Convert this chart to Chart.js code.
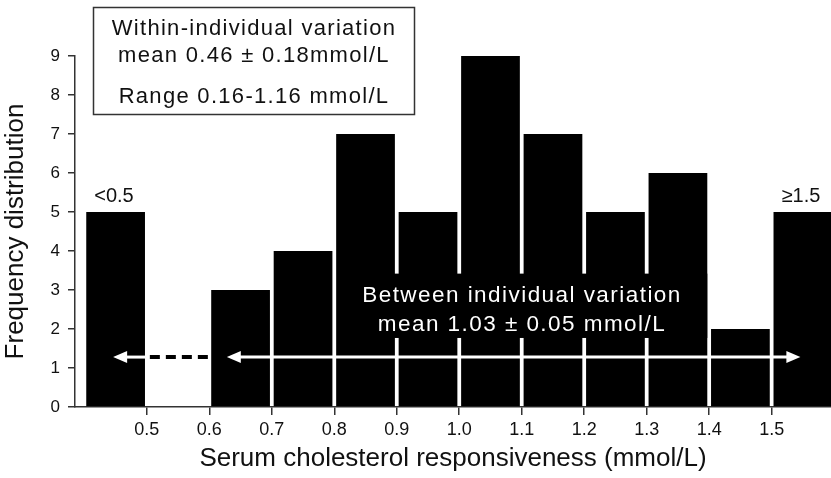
<!DOCTYPE html>
<html>
<head>
<meta charset="utf-8">
<script src="https://cdn.jsdelivr.net/npm/chart.js@4/dist/chart.umd.min.js"></script>
<style>
  html, body { margin:0; padding:0; background:#fff; }
  #wrap { width:831px; height:478px; position:relative; }
</style>
</head>
<body>
<div id="wrap"><canvas id="histo"></canvas></div>
<script>
// histogram bins (centre of each 0.1 mmol/L bin) and counts
const binCenters = [0.45, 0.55, 0.65, 0.75, 0.85, 0.95, 1.05, 1.15, 1.25, 1.35, 1.45, 1.55];
const frequencies = [5, 0, 3, 4, 7, 5, 9, 7, 5, 6, 2, 5];
const xTickValues = [0.5, 0.6, 0.7, 0.8, 0.9, 1.0, 1.1, 1.2, 1.3, 1.4, 1.5];
const yTickValues = [0, 1, 2, 3, 4, 5, 6, 7, 8, 9];

const boxLines = ['Within-individual variation', 'mean 0.46 \u00b1 0.18mmol/L', 'Range 0.16-1.16 mmol/L'];
const betweenLines = ['Between individual variation', 'mean 1.03 \u00b1 0.05 mmol/L'];
const edgeLabels = [{ text:'<0.5', bin:0 }, { text:'\u22651.5', bin:11 }];

const FONT = '"Liberation Sans", Arial, sans-serif';
const INK = '#111';

const annotations = {
  id:'annotations',
  afterDatasetsDraw(chart){
    const {ctx, scales:{x, y}} = chart;
    ctx.save();
    ctx.textAlign = 'center';
    ctx.textBaseline = 'middle';

    // labels above the open-ended bins
    ctx.font = '20px ' + FONT;
    ctx.fillStyle = INK;
    edgeLabels.forEach(l=>{
      const px = l.bin === 0 ? 114 : 801;
      ctx.fillText(l.text, px, y.getPixelForValue(frequencies[l.bin]) - 16);
    });

    // within-individual box
    ctx.strokeStyle = '#333';
    ctx.lineWidth = 1.5;
    ctx.strokeRect(93.5, 7.5, 321, 107);
    ctx.font = '22px ' + FONT;
    ctx.letterSpacing = '1.3px';
    ctx.fillText(boxLines[0], 254, 29);
    ctx.fillText(boxLines[1], 254, 56);
    ctx.fillText(boxLines[2], 254, 97);

    // black panel behind between-individual text
    ctx.fillStyle = '#000';
    const rx0 = x.getPixelForValue(0.81), rx1 = x.getPixelForValue(1.397);
    const ry0 = y.getPixelForValue(3.42), ry1 = y.getPixelForValue(1.77);
    ctx.fillRect(rx0, ry0, rx1 - rx0, ry1 - ry0);
    ctx.fillStyle = '#fff';
    ctx.font = '22.5px ' + FONT;
    ctx.letterSpacing = '1.45px';
    ctx.fillText(betweenLines[0], 522, 296);
    ctx.fillText(betweenLines[1], 522, 325);
    ctx.letterSpacing = '0px';

    // arrows
    const ay = y.getPixelForValue(1.28);
    const head = (tip, dir)=>{
      ctx.fillStyle = '#fff';
      ctx.beginPath();
      ctx.moveTo(tip, ay);
      ctx.lineTo(tip + dir * 14, ay - 6);
      ctx.lineTo(tip + dir * 14, ay + 6);
      ctx.closePath();
      ctx.fill();
    };
    const shaft = (a, b)=>{
      ctx.strokeStyle = '#fff';
      ctx.lineWidth = 3;
      ctx.beginPath();
      ctx.moveTo(a, ay);
      ctx.lineTo(b, ay);
      ctx.stroke();
    };
    const tipL1 = x.getPixelForValue(0.446);
    const tipL2 = x.getPixelForValue(0.628);
    const tipR = x.getPixelForValue(1.546);
    shaft(tipL1 + 8, x.getPixelForValue(0.5) + 1);
    head(tipL1, 1);
    shaft(tipL2 + 8, tipR - 8);
    head(tipL2, 1);
    head(tipR, -1);

    // dashed segment through the empty bin
    ctx.strokeStyle = '#000';
    ctx.lineWidth = 4;
    ctx.setLineDash([10, 6]);
    ctx.beginPath();
    ctx.moveTo(x.getPixelForValue(0.5) + 3, ay);
    ctx.lineTo(x.getPixelForValue(0.6) + 2, ay);
    ctx.stroke();
    ctx.setLineDash([]);
    ctx.restore();
  }
};

new Chart(document.getElementById('histo').getContext('2d'), {
  type:'bar',
  data:{
    datasets:[{
      data: binCenters.map((c,i)=>({ x:c, y:frequencies[i] })),
      backgroundColor:'#000',
      borderWidth:0,
      barPercentage:0.94,
      categoryPercentage:1
    }]
  },
  options:{
    responsive:true,
    maintainAspectRatio:false,
    animation:false,
    layout:{ padding:{ top:56, right:0, left:0, bottom:0 } },
    plugins:{ legend:{ display:false }, tooltip:{ enabled:false } },
    scales:{
      x:{
        type:'linear',
        offset:false,
        min:0.385, max:1.595,
        afterBuildTicks: s => { s.ticks = xTickValues.map(v=>({ value:v })); },
        afterFit: s => { s.height = 71; },
        grid:{ offset:false, drawOnChartArea:false, drawTicks:true, tickLength:8, color:'#333', lineWidth:1.5 },
        border:{ display:true, color:'#333', width:1.5 },
        ticks:{ color:INK, font:{ family:FONT, size:18 }, padding:4, maxRotation:0,
                callback: v => v.toFixed(1) },
        title:{ display:true, text:'Serum cholesterol responsiveness (mmol/L)', color:INK,
                font:{ family:FONT, size:26 }, padding:{ top:3 } }
      },
      y:{
        min:0, max:9,
        afterBuildTicks: s => { s.ticks = yTickValues.map(v=>({ value:v })); },
        afterFit: s => { s.width = 75; },
        grid:{ drawOnChartArea:false, drawTicks:true, tickLength:7, color:'#333', lineWidth:1.5 },
        border:{ display:true, color:'#333', width:1.5 },
        ticks:{ color:INK, font:{ family:FONT, size:17 }, padding:8 },
        title:{ display:true, text:'Frequency distribution', color:INK,
                font:{ family:FONT, size:26 }, padding:{ top:0, bottom:0 } }
      }
    }
  },
  plugins:[annotations]
});
</script>
</body>
</html>
